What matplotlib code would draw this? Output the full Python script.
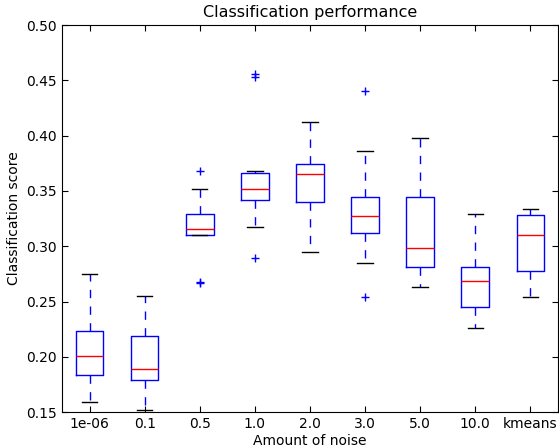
from matplotlib import pyplot as plt

labels = ["1e-06", "0.1", "0.5", "1.0", "2.0", "3.0", "5.0", "10.0", "kmeans"]
whislo = [0.159, 0.152, 0.310, 0.317, 0.295, 0.285, 0.263, 0.226, 0.254]
q1 = [0.184, 0.179, 0.310, 0.342, 0.340, 0.312, 0.281, 0.245, 0.278]
med = [0.201, 0.189, 0.316, 0.352, 0.365, 0.327, 0.298, 0.269, 0.310]
q3 = [0.223, 0.219, 0.329, 0.366, 0.374, 0.345, 0.345, 0.281, 0.328]
whishi = [0.275, 0.255, 0.352, 0.368, 0.412, 0.386, 0.398, 0.329, 0.334]
fliers = [
    [],
    [],
    [0.368, 0.268, 0.267],
    [0.456, 0.453, 0.289],
    [],
    [0.440, 0.254],
    [],
    [],
    [],
]

if __name__ == "__main__":
    stats = [
        {
            "label": labels[k],
            "whislo": whislo[k],
            "q1": q1[k],
            "med": med[k],
            "q3": q3[k],
            "whishi": whishi[k],
            "fliers": fliers[k],
        }
        for k in range(len(labels))
    ]

    fig = plt.figure(figsize=(5.59, 4.48), dpi=100)
    ax = fig.add_axes([0.111, 0.080, 0.887, 0.864])
    ax.bxp(
        stats,
        widths=0.5,
        capwidths=0.28,
        boxprops=dict(color="blue"),
        whiskerprops=dict(color="blue", linestyle=(0, (6, 6))),
        capprops=dict(color="black"),
        medianprops=dict(color="red"),
        flierprops=dict(marker="+", markeredgecolor="blue", markersize=6),
    )
    ax.set_xlim(0.5, 9.5)
    ax.set_ylim(0.15, 0.50)
    ax.tick_params(direction="in", top=True, right=True, length=4)
    ax.set_title("Classification performance", fontsize=11.5)
    ax.set_xlabel("Amount of noise", labelpad=2)
    ax.set_ylabel("Classification score")
    fig.savefig("out.png")
